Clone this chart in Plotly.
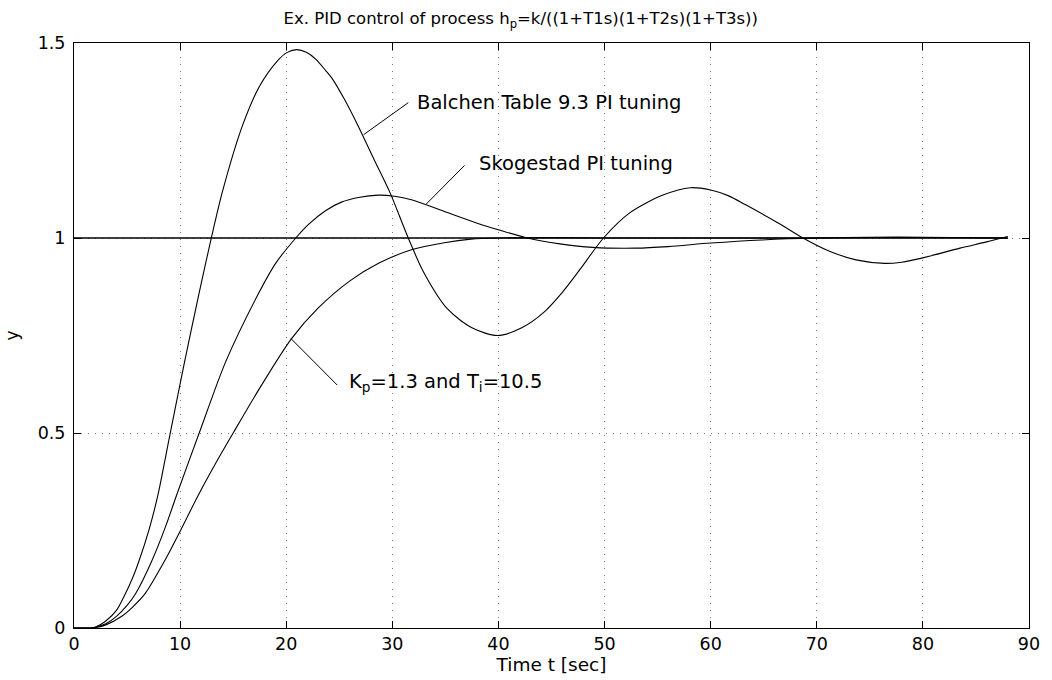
import plotly.graph_objects as go

# ---- data ----
t_balchen = [0, 1, 1.5, 2, 3, 4, 4.7, 5.5, 6.1, 7.1, 7.9, 9.0, 10.4, 11.8, 12.9, 14.0, 15.9,
             17.5, 19.2, 20.1, 21.0, 21.9, 22.8, 23.7, 24.3, 25.5, 26.8, 28.3, 29.8, 31.5,
             32.9, 35.2, 37.5, 39.9, 42.2, 44.3, 46.0, 47.7, 49.9, 52.4, 55.5, 58.1, 60.0,
             61.7, 63.3, 66.4, 68.7, 71.2, 73.7, 76.4, 78.0, 80.0, 83.5, 86.0, 88.0]
y_balchen = [0, 0, 0, 0.002, 0.018, 0.045, 0.08, 0.127, 0.17, 0.255, 0.34, 0.49, 0.68, 0.86,
             0.995, 1.12, 1.29, 1.39, 1.455, 1.476, 1.483, 1.476, 1.458, 1.43, 1.41, 1.355,
             1.286, 1.2, 1.115, 1.0, 0.915, 0.818, 0.77, 0.75, 0.77, 0.81, 0.86, 0.92, 1.0,
             1.065, 1.11, 1.129, 1.123, 1.108, 1.085, 1.038, 1.0, 0.966, 0.944, 0.935, 0.938,
             0.949, 0.974, 0.99, 1.004]

t_skogestad = [0, 1, 1.5, 2, 3, 4, 5, 5.8, 7.3, 8.6, 9.7, 11.8, 14.3, 17.3, 19.0, 20.9, 22.1,
               23.7, 25.2, 26.8, 28.7, 30.2, 31.8, 34.9, 38.0, 40.0, 42.7, 45.8, 48.9, 52.9,
               56.0, 60.0, 64.8, 70.0, 75.0, 80.0, 88.0]
y_skogestad = [0, 0, 0, 0.002, 0.011, 0.03, 0.058, 0.088, 0.17, 0.258, 0.343, 0.5, 0.683,
               0.853, 0.935, 1.0, 1.035, 1.07, 1.092, 1.104, 1.11, 1.107, 1.098, 1.068, 1.038,
               1.021, 1.0, 0.985, 0.976, 0.974, 0.978, 0.987, 0.995, 1.0, 1.002, 1.002, 1.0]

t_kp = [0, 1, 1.5, 2, 3, 4.5, 5.5, 6.7, 8.6, 10.0, 11.7, 13.3, 15.0, 17.5, 20.5, 23.0, 26.0,
        28.7, 31.8, 34.9, 37.4, 40.0, 45.0, 50.0, 60.0, 70.0, 80.0, 88.0]
y_kp = [0, 0, 0, 0.001, 0.008, 0.03, 0.053, 0.088, 0.175, 0.248, 0.34, 0.42, 0.5, 0.615,
        0.742, 0.82, 0.89, 0.935, 0.97, 0.988, 0.997, 1.0, 1.001, 1.0, 1.0, 1.0, 1.001, 1.0]

t_ref = [0, 88]
y_ref = [1, 1]

x_ticks = [0, 10, 20, 30, 40, 50, 60, 70, 80, 90]
y_ticks = [0, 0.5, 1, 1.5]
y_tick_labels = ["0", "0.5", "1", "1.5"]

# annotation texts and leader lines (data coordinates)
label_texts = ["Balchen Table 9.3 PI tuning", "Skogestad PI tuning",
               "K<sub>p</sub>=1.3 and T<sub>i</sub>=10.5"]
label_pos = [(32.1, 1.347), (38.0, 1.191), (25.7, 0.63)]
leader_lines = [((27.3, 1.265), (31.5, 1.347)),
                ((33.2, 1.087), (36.8, 1.186)),
                ((20.45, 0.742), (24.8, 0.623))]

FONT = "DejaVu Sans"

fig = go.Figure()
for tx, ty in [(t_balchen, y_balchen), (t_skogestad, y_skogestad), (t_kp, y_kp)]:
    fig.add_trace(go.Scatter(x=tx, y=ty, mode="lines",
                             line=dict(color="black", width=1.1, shape="spline", smoothing=0.8),
                             showlegend=False, hoverinfo="skip"))
fig.add_trace(go.Scatter(x=t_ref, y=y_ref, mode="lines", line=dict(color="black", width=1.7),
                         showlegend=False, hoverinfo="skip"))

for (p0, p1) in leader_lines:
    fig.add_shape(type="line", x0=p0[0], y0=p0[1], x1=p1[0], y1=p1[1],
                  line=dict(color="black", width=1), xref="x", yref="y")

for txt, (ax, ay) in zip(label_texts, label_pos):
    fig.add_annotation(x=ax, y=ay, text=txt, showarrow=False, xanchor="left",
                       yanchor="middle", font=dict(family=FONT, size=19.5, color="black"))

GRID = dict(showgrid=True, gridcolor="#7a7a7a", griddash="1px,6px", gridwidth=1)

fig.update_layout(
    width=1052, height=680,
    margin=dict(l=73, r=16, t=43, b=49),
    paper_bgcolor="white", plot_bgcolor="white",
    title=dict(text="Ex. PID control of process h<sub>p</sub>=k/((1+T1s)(1+T2s)(1+T3s))",
               x=0.495, xanchor="center", y=0.973, yanchor="middle",
               font=dict(family=FONT, size=16.5, color="black")),
    font=dict(family=FONT, size=17, color="black"),
)
fig.update_xaxes(
    range=[0, 90], tickmode="array", tickvals=x_ticks,
    showline=True, linecolor="black", linewidth=1, mirror="ticks",
    ticks="inside", ticklen=7, tickcolor="black",
    zeroline=False, **GRID,
    title=dict(text="Time t [sec]", standoff=1, font=dict(family=FONT, size=18.5)),
    tickfont=dict(family=FONT, size=17.5),
)
fig.update_yaxes(
    range=[0, 1.5], tickmode="array", tickvals=y_ticks, ticktext=y_tick_labels,
    showline=True, linecolor="black", linewidth=1, mirror="ticks",
    ticks="inside", ticklen=7, tickcolor="black", ticklabelstandoff=4,
    zeroline=False, **GRID,
    title=dict(text="y", standoff=14, font=dict(family=FONT, size=17)),
    tickfont=dict(family=FONT, size=17.5),
)

fig.write_html("out.html")
